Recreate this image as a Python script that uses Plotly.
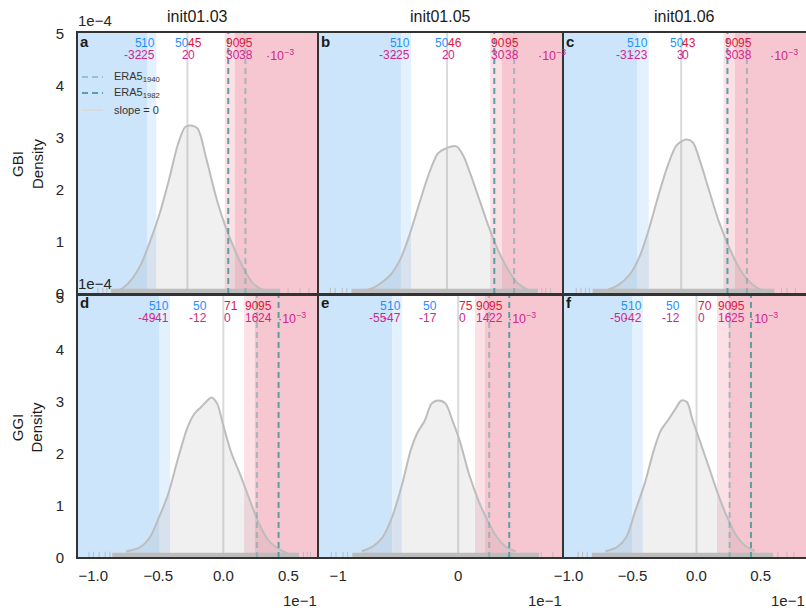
import plotly.graph_objects as go

W, H = 806, 610
FONT = "Liberation Sans, Arial, Helvetica, sans-serif"

# ---------------- data ----------------
# x values in units of 1e-3, density in units of 1e-4
col_titles = ["init01.03", "init01.05", "init01.06"]
row_names = ["GBI", "GGI"]
panel_letters = ["a", "b", "c", "d", "e", "f"]
pct_levels = [5, 10, 50, 90, 95]

a_x = [-59.7, -52.2, -44.8, -37.3, -29.9, -22.4, -15.0, -7.5, -1.9, 1.8, 8.2, 14.9, 22.4, 29.8, 37.3, 44.7, 52.2, 59.6, 67.1]
a_y = [0.04, 0.11, 0.28, 0.57, 1.02, 1.54, 2.18, 2.89, 3.21, 3.24, 3.18, 2.63, 1.92, 1.35, 0.89, 0.51, 0.22, 0.09, 0.04]
b_x = [-58.3, -51.8, -45.3, -38.9, -32.4, -25.9, -19.4, -13.0, -6.5, -1.7, 6.5, 11.3, 16.2, 22.6, 29.1, 35.6, 42.1, 48.5, 56.6]
b_y = [0.06, 0.11, 0.22, 0.38, 0.67, 1.15, 1.73, 2.28, 2.70, 2.79, 2.84, 2.66, 2.31, 1.80, 1.28, 0.83, 0.48, 0.22, 0.07]
c_x = [-52.9, -44.7, -36.4, -29.8, -23.2, -16.5, -9.9, -3.3, 3.3, 8.2, 13.2, 19.8, 26.5, 33.0, 39.7, 46.2, 54.5, 61.1]
c_y = [0.07, 0.17, 0.38, 0.70, 1.22, 1.86, 2.44, 2.86, 2.97, 2.92, 2.57, 1.99, 1.41, 0.96, 0.57, 0.30, 0.11, 0.06]
d_x = [-74.6, -63.8, -56.7, -49.5, -42.4, -35.2, -28.0, -22.6, -17.2, -9.0, -4.7, 0.0, 6.1, 13.2, 20.4, 27.5, 34.7, 43.6, 50.0]
d_y = [0.13, 0.21, 0.39, 0.78, 1.23, 1.88, 2.48, 2.76, 2.90, 3.09, 2.97, 2.55, 2.03, 1.59, 1.11, 0.66, 0.34, 0.16, 0.08]
e_x = [-80.4, -70.7, -62.9, -55.2, -47.4, -39.6, -33.8, -27.9, -22.2, -16.3, -10.5, -4.7, 1.2, 8.9, 16.8, 24.5, 32.3, 40.0, 47.8]
e_y = [0.13, 0.23, 0.40, 0.78, 1.36, 2.07, 2.42, 2.64, 2.97, 3.03, 2.97, 2.64, 2.26, 1.62, 1.11, 0.72, 0.40, 0.21, 0.13]
f_x = [-71.1, -62.1, -54.9, -47.8, -40.5, -33.4, -28.0, -22.6, -17.2, -11.8, -7.5, -2.9, 2.5, 9.6, 16.8, 24.0, 31.1, 38.3, 45.5]
f_y = [0.13, 0.21, 0.40, 0.91, 1.43, 2.07, 2.45, 2.64, 2.84, 3.03, 3.00, 2.64, 2.26, 1.75, 1.23, 0.78, 0.43, 0.23, 0.14]

# quantiles (5, 10, 50, 90, 95 %) in 1e-3
q_a = [-32, -25, 2, 30, 38]
q_b = [-32, -25, 2, 30, 38]
q_c = [-31, -23, 3, 30, 38]
q_d = [-49, -41, -12, 16, 24]
q_e = [-55, -47, -17, 14, 22]
q_f = [-50, -42, -12, 16, 25]
zero_pct = [45, 46, 43, 71, 75, 70]

era5_1940 = [46.6, 25.8]   # GBI, GGI
era5_1982 = [32.8, 42.5]

# rug: dense span + isolated ticks
rug_a_dense = [-61.5, 74.5]
rug_a_ticks = [-71.9, -67.9, -64.7, 80.9, 90.5, 97.7]
rug_b_dense = [-66.4, 63.1]
rug_b_ticks = [-81.0, -77.7, -72.8, -69.6, 65.7, 68.6, 71.9]
rug_c_dense = [-62.8, 66.1]
rug_c_ticks = [-74.4, -71.1, -67.8, -65.2, 71.1, 75.0, 81.0]
rug_d_dense = [-85.4, 58.1]
rug_d_ticks = [-103.3, -99.8, -95.5, -90.8, -87.2, 61.6, 64.6, 67.0]
rug_e_dense = [-88.2, 67.3]
rug_e_ticks = [-105.7, -101.8, -95.9, -92.1, 69.2, 78.9]
rug_f_dense = [-81.8, 59.8]
rug_f_ticks = [-92.5, -89.0, -85.4, 63.5, 70.6, 76.0]

x_tickvals_d = [-100, -50, 0, 50]
x_ticktext_d = ["\u22121.0", "\u22120.5", "0.0", "0.5"]
x_tickvals_e = [-100, 0]
x_ticktext_e = ["\u22121", "0"]
y_tickvals = [0, 1, 2, 3, 4, 5]

# ---------------- layout constants ----------------
col_px = [(77, 318), (318, 563), (563, 806)]
row_px = [(32, 294), (295, 558)]
xlims = [[-88.7, 104.9], [-89.6, 80.5], [-83.8, 88.5],
         [-112.5, 72.8], [-116.8, 87.3], [-104.3, 85.5]]
ylims = [[0, 5.04], [0, 5.06]]
exp_x = [62.5, 41.0]

kde_x = [a_x, b_x, c_x, d_x, e_x, f_x]
kde_y = [a_y, b_y, c_y, d_y, e_y, f_y]
quants = [q_a, q_b, q_c, q_d, q_e, q_f]
rug_dense = [rug_a_dense, rug_b_dense, rug_c_dense, rug_d_dense, rug_e_dense, rug_f_dense]
rug_ticks = [rug_a_ticks, rug_b_ticks, rug_c_ticks, rug_d_ticks, rug_e_ticks, rug_f_ticks]

C_BLUE_D = "#cde5fb"
C_BLUE_L = "#e3f0fd"
C_RED_L = "#fbe1e6"
C_RED_D = "#f6c7d1"
C_KDE = "#bdbdbd"
C_ZERO = "#dadada"
C_1940 = "rgba(95,158,160,0.5)"
C_1982 = "#5f9ea0"
C_TXT_B = "#1e90ff"
C_TXT_R = "#e0163f"
C_TXT_M = "#d0288c"
C_FRAME = "#333333"


def tw(s, size=12):
    w = 0.0
    for ch in s:
        if ch.isdigit():
            w += 0.556 * size
        elif ch == "-":
            w += 0.333 * size
        else:
            w += 0.5 * size
    return w


fig = go.Figure()
shapes = []
annotations = []
layout = {}

for i in range(6):
    r, c = divmod(i, 3)
    sfx = "" if i == 0 else str(i + 1)
    xa, ya = "x" + sfx, "y" + sfx
    x0p, x1p = col_px[c]
    y0p, y1p = row_px[r]
    lo, hi = xlims[i]
    scale = (x1p - x0p) / (hi - lo)
    ytop = ylims[r][1]

    layout["xaxis" + sfx] = dict(
        domain=[x0p / W, x1p / W], range=xlims[i], anchor=ya, automargin=False,
        showgrid=False, zeroline=False, showline=False, ticks="",
        showticklabels=(r == 1),
        tickvals=(x_tickvals_e if i == 4 else x_tickvals_d),
        ticktext=(x_ticktext_e if i == 4 else x_ticktext_d),
        tickfont=dict(size=15, color="#262626", family=FONT),
        ticklabelstandoff=7,
    )
    layout["yaxis" + sfx] = dict(
        domain=[1 - y1p / H, 1 - y0p / H], range=ylims[r], anchor=xa, automargin=False,
        showgrid=False, zeroline=False, showline=False, ticks="",
        showticklabels=(c == 0), tickvals=y_tickvals,
        tickfont=dict(size=15, color="#262626", family=FONT),
        ticklabelstandoff=12,
    )

    q5, q10, q50, q90, q95 = quants[i]
    # background shading
    for xs0, xs1, col in [(lo, q5, C_BLUE_D), (q5, q10, C_BLUE_L),
                          (q90, q95, C_RED_L), (q95, hi, C_RED_D)]:
        shapes.append(dict(type="rect", xref=xa, yref=ya + " domain",
                           x0=xs0, x1=xs1, y0=0, y1=1, fillcolor=col,
                           line=dict(width=0), layer="below"))

    # slope = 0 line
    fig.add_trace(go.Scatter(x=[0, 0], y=[0, ytop], mode="lines", xaxis=xa, yaxis=ya,
                             line=dict(color=C_ZERO, width=2), showlegend=False,
                             hoverinfo="skip"))
    # KDE
    fig.add_trace(go.Scatter(x=kde_x[i], y=kde_y[i], mode="lines", xaxis=xa, yaxis=ya,
                             fill="tozeroy", fillcolor="rgba(128,128,128,0.12)",
                             line=dict(color=C_KDE, width=2, shape="spline", smoothing=0.8),
                             showlegend=False, hoverinfo="skip"))
    # rug
    dl, dh = rug_dense[i]
    fig.add_trace(go.Scatter(x=[dl, dh, dh, dl, dl], y=[0, 0, 0.1, 0.1, 0], mode="lines",
                             fill="toself", fillcolor=C_KDE, line=dict(width=0, color=C_KDE),
                             xaxis=xa, yaxis=ya, showlegend=False, hoverinfo="skip"))
    rx, ry = [], []
    for t in rug_ticks[i]:
        rx += [t, t, None]
        ry += [0, 0.12, None]
    fig.add_trace(go.Scatter(x=rx, y=ry, mode="lines", line=dict(color=C_KDE, width=1),
                             xaxis=xa, yaxis=ya, showlegend=False, hoverinfo="skip"))
    # ERA5 lines
    fig.add_trace(go.Scatter(x=[era5_1940[r]] * 2, y=[0, ytop], mode="lines", xaxis=xa, yaxis=ya,
                             line=dict(color=C_1940, width=2, dash="6px,4px"),
                             showlegend=False, hoverinfo="skip"))
    fig.add_trace(go.Scatter(x=[era5_1982[r]] * 2, y=[0, ytop], mode="lines", xaxis=xa, yaxis=ya,
                             line=dict(color=C_1982, width=2, dash="6px,4px"),
                             showlegend=False, hoverinfo="skip"))

    # frame
    L, R, T, B = x0p / W, x1p / W, 1 - y0p / H, 1 - y1p / H
    if c < 2:
        path = f"M{L},{B} L{L},{T} L{R},{T} L{R},{B} Z"
    else:
        path = f"M{R},{T} L{L},{T} L{L},{B} L{R},{B}"
    shapes.append(dict(type="path", xref="paper", yref="paper", path=path,
                       line=dict(color=C_FRAME, width=2), layer="above"))

    # percentile labels
    p5 = min(q5, q10 - tw("10") / scale)
    p95 = max(q95, q90 + tw("90") / scale)
    y_pct = 1 - (y0p + 10.5) / H
    y_val = 1 - (y0p + 23.5) / H
    labs = [
        (p5, "5", str(q5), "right", C_TXT_B),
        (q10, "10", str(q10), "right", C_TXT_B),
        (q50, "50", str(q50), "right", C_TXT_B),
        (0, str(zero_pct[i]), "0", "left", C_TXT_R),
        (q90, "90", str(q90), "left", C_TXT_R),
        (p95, "95", str(q95), "left", C_TXT_R),
    ]
    for xv, ptxt, vtxt, anc, col in labs:
        annotations.append(dict(x=xv, y=y_pct, xref=xa, yref="paper", text=ptxt,
                                showarrow=False, xanchor=anc, yanchor="middle",
                                font=dict(size=12, color=col, family=FONT), borderpad=0))
        annotations.append(dict(x=xv, y=y_val, xref=xa, yref="paper", text=vtxt,
                                showarrow=False, xanchor=anc, yanchor="middle",
                                font=dict(size=12, color=C_TXT_M, family=FONT), borderpad=0))
    annotations.append(dict(x=exp_x[r], y=y_val, xref=xa, yref="paper",
                            text="\u00b710<sup>\u22123</sup>", showarrow=False,
                            xanchor="left", yanchor="middle",
                            font=dict(size=12.5, color=C_TXT_M, family=FONT), borderpad=0))
    # panel letter
    annotations.append(dict(x=(x0p + 2) / W, y=1 - (y0p + (9 if r == 0 else 7)) / H,
                            xref="paper", yref="paper", text=f"<b>{panel_letters[i]}</b>",
                            showarrow=False, xanchor="left", yanchor="middle",
                            font=dict(size=15, color="#1a1a1a", family=FONT), borderpad=0))
    if r == 1:
        annotations.append(dict(x=x1p / W, y=1 - 600 / H, xref="paper", yref="paper",
                                text="1e\u22121", showarrow=False, xanchor="right",
                                yanchor="middle", font=dict(size=15, color="#262626", family=FONT),
                                borderpad=0))

# column titles
for c in range(3):
    x0p, x1p = col_px[c]
    annotations.append(dict(x=(x0p + x1p) / 2 / W, y=1 - 17 / H, xref="paper", yref="paper",
                            text=col_titles[c], showarrow=False, xanchor="center",
                            yanchor="middle", font=dict(size=16, color="#1a1a1a", family=FONT)))
# row titles and offset texts
for r in range(2):
    y0p, y1p = row_px[r]
    annotations.append(dict(x=27 / W, y=1 - (y0p + y1p) / 2 / H, xref="paper", yref="paper",
                            text=f"{row_names[r]}<br>Density", textangle=-90, showarrow=False,
                            xanchor="center", yanchor="middle",
                            font=dict(size=15, color="#1a1a1a", family=FONT)))
    annotations.append(dict(x=77 / W, y=1 - (y0p - 12) / H, xref="paper", yref="paper",
                            text="1e\u22124", showarrow=False, xanchor="left", yanchor="middle",
                            font=dict(size=15, color="#262626", family=FONT), borderpad=0))

# legend (panel a)
leg_items = [("ERA5<sub>1940</sub>", C_1940, "6px,4px", 77),
             ("ERA5<sub>1982</sub>", C_1982, "6px,4px", 93),
             ("slope = 0", C_ZERO, "solid", 110)]
for txt, col, dash, ypx in leg_items:
    shapes.append(dict(type="line", xref="paper", yref="paper", x0=82 / W, x1=103 / W,
                       y0=1 - ypx / H, y1=1 - ypx / H, line=dict(color=col, width=2, dash=dash)))
    annotations.append(dict(x=113 / W, y=1 - ypx / H, xref="paper", yref="paper", text=txt,
                            showarrow=False, xanchor="left", yanchor="middle",
                            font=dict(size=11, color="#333333", family=FONT), borderpad=0))

fig.update_layout(width=W, height=H, margin=dict(l=0, r=0, t=0, b=0, autoexpand=False),
                  paper_bgcolor="white", plot_bgcolor="white",
                  showlegend=False, shapes=shapes, annotations=annotations,
                  font=dict(family=FONT), **layout)

fig.write_html("out.html", config={"displayModeBar": False},
               post_script="document.body.style.margin='0px';document.body.style.overflow='hidden';")
